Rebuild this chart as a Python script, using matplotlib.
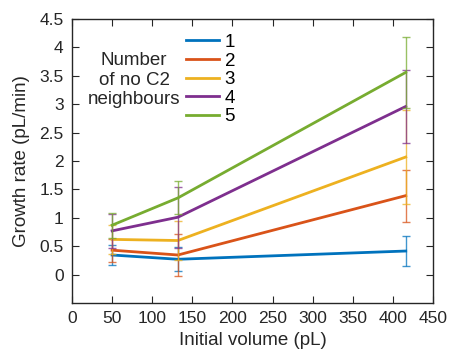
"""Growth rate against initial volume, one line per number of no-C2 neighbours."""

import matplotlib

matplotlib.use("Agg")
from matplotlib import pyplot as plt

plt.rcParams["font.family"] = ["Liberation Sans", "DejaVu Sans"]

volumes = [50, 132, 416]
labels = ["1", "2", "3", "4", "5"]
rates = [
    [0.345, 0.27, 0.415],
    [0.43, 0.345, 1.39],
    [0.62, 0.60, 2.07],
    [0.77, 1.01, 2.96],
    [0.87, 1.35, 3.56],
]
errors = [
    [0.18, 0.21, 0.26],
    [0.2, 0.375, 0.46],
    [0.26, 0.34, 0.83],
    [0.3, 0.54, 0.64],
    [0.22, 0.29, 0.63],
]
colors = ["#0072BD", "#D95319", "#EDB120", "#7E2F8E", "#77AC30"]
text_color = "#262626"

fig = plt.figure(figsize=(4.5, 3.56), dpi=100)
ax = fig.add_axes([72 / 450, 53 / 356, 361 / 450, 284 / 356])

for rate, err, color, label in zip(rates, errors, colors, labels):
    ax.errorbar(volumes, rate, yerr=err, fmt="none", ecolor=color,
                elinewidth=1.0, capsize=3, capthick=1.0, alpha=0.75)
    ax.plot(volumes, rate, color=color, lw=2, label=label)

ax.set_xlim(0, 450)
ax.set_ylim(-0.5, 4.5)
ax.set_xticks(range(0, 451, 50))
ax.set_yticks([0, 0.5, 1, 1.5, 2, 2.5, 3, 3.5, 4, 4.5])
ax.set_yticklabels(["0", "0.5", "1", "1.5", "2", "2.5", "3", "3.5", "4", "4.5"])
ax.tick_params(direction="in", top=True, right=True, length=5, width=0.8,
               labelsize=12.5, colors=text_color, pad=6)
for spine in ax.spines.values():
    spine.set_color(text_color)
    spine.set_linewidth(1.0)

ax.set_xlabel("Initial volume (pL)", fontsize=13.5, color=text_color, labelpad=4)
ax.set_ylabel("Growth rate (pL/min)", fontsize=13.5, color=text_color, labelpad=7)

ax.legend(loc="upper left", bbox_to_anchor=(0.316, 0.948), frameon=False,
          fontsize=13.5, handlelength=1.75, handletextpad=0.3, labelspacing=0.08,
          borderpad=0, borderaxespad=0)
ax.text(0.172, 0.785, "Number\nof no C2\nneighbours", transform=ax.transAxes,
        ha="center", va="center", fontsize=13.5, color=text_color,
        linespacing=1.2)

fig.savefig("out.png", dpi=100)
